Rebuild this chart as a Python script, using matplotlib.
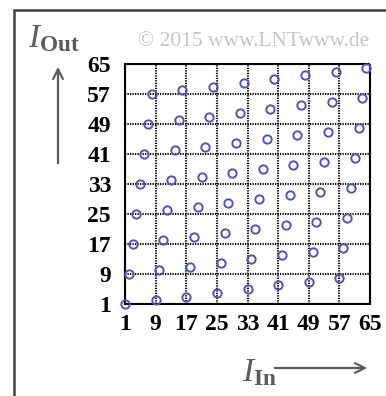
import matplotlib.pyplot as plt
from matplotlib.patches import Rectangle

# ------------------------- data --------------------------------
# 8x8 block interleaver: input index -> output index
i_in = list(range(1, 65))
i_out = [1, 9, 17, 25, 33, 41, 49, 57,
         2, 10, 18, 26, 34, 42, 50, 58,
         3, 11, 19, 27, 35, 43, 51, 59,
         4, 12, 20, 28, 36, 44, 52, 60,
         5, 13, 21, 29, 37, 45, 53, 61,
         6, 14, 22, 30, 38, 46, 54, 62,
         7, 15, 23, 31, 39, 47, 55, 63,
         8, 16, 24, 32, 40, 48, 56, 64]
ticks = [1, 9, 17, 25, 33, 41, 49, 57, 65]

plt.rcParams['mathtext.fontset'] = 'custom'
plt.rcParams['mathtext.rm'] = 'Liberation Serif'
plt.rcParams['mathtext.it'] = 'Liberation Serif:italic'
plt.rcParams['mathtext.bf'] = 'Liberation Serif:bold'

gray = '#5c5c5c'
dots = (0, (0.6, 0.6))

# ------------------------- plot --------------------------------
fig = plt.figure(figsize=(3.86, 3.96), dpi=100)
ax = fig.add_axes([125 / 386, 92 / 396, 245 / 386, 240 / 396])
ax.set_xlim(1, 65)
ax.set_ylim(1, 65)

ax.plot(i_in, i_out, 'o', mfc='none', mec='#5454b4', ms=6, mew=1.4,
        clip_on=False, zorder=3)

ax.set_xticks(ticks)
ax.set_yticks(ticks)
ax.tick_params(length=0, labelsize=17, pad=7)
for lab in ax.get_xticklabels() + ax.get_yticklabels():
    lab.set_family('Liberation Serif')
    lab.set_weight('bold')
ax.tick_params(axis='y', pad=10)
ax.grid(True, color='black', ls=dots, lw=1.5)
for sp in ax.spines.values():
    sp.set_linestyle(dots)
    sp.set_linewidth(1.5)

# frame around the figure
fig.patches.append(Rectangle((14 / 386, -0.2), 2, (396 - 10) / 396 + 0.2,
                             transform=fig.transFigure, fill=False,
                             ec='#404040', lw=1.8))

# axis captions with arrows
fig.text(28 / 386, 1 - 38 / 396, r'$I_{\mathbf{Out}}$', fontsize=24,
         color=gray, va='center', ha='left')
fig.text(242 / 386, 1 - 372 / 396, r'$I_{\mathbf{In}}$', fontsize=24,
         color=gray, va='center', ha='left')
fig.add_artist(plt.Annotation('', xy=(58 / 386, 1 - 64 / 396),
                              xytext=(58 / 386, 1 - 166 / 396),
                              xycoords='figure fraction',
                              arrowprops=dict(arrowstyle='->,head_length=0.7,head_width=0.35',
                                              color=gray, lw=1.6)))
fig.add_artist(plt.Annotation('', xy=(370 / 386, 1 - 368 / 396),
                              xytext=(272 / 386, 1 - 368 / 396),
                              xycoords='figure fraction',
                              arrowprops=dict(arrowstyle='->,head_length=0.7,head_width=0.35',
                                              color=gray, lw=1.6)))

fig.text(254 / 386, 1 - 42 / 396, '\u00a9 2015 www.LNTwww.de', fontsize=15.5,
         family='Liberation Serif', color='#c6c6ca', ha='center', va='center')

fig.savefig('out.png', dpi=100)
